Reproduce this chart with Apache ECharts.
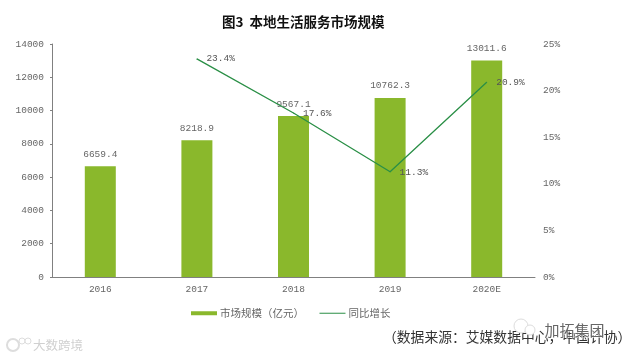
<!DOCTYPE html>
<html><head><meta charset="utf-8">
<style>html,body{margin:0;padding:0;background:#fff}#c{width:622px;height:359px}</style>
<script src="https://cdn.jsdelivr.net/npm/echarts@6/dist/echarts.min.js"></script>
</head><body><div id="c"></div>
<script>
const categories = ['2016','2017','2018','2019','2020E'];
const marketSize = [6659.4, 8218.9, 9667.1, 10762.3, 13011.6];
const marketLabels = ['6659.4','8218.9','9567.1','10762.3','13011.6'];
const growth = [null, 23.4, 17.6, 11.3, 20.9];
const leftTicks = {min:0, max:14000, interval:2000};
const rightTicks = {min:0, max:25, interval:5};
const growthLabelOffsets = [null,[4,0],[4,1],[4,1],[4,0]];
const mono = '"Liberation Mono","DejaVu Sans Mono",monospace';
const cjk = '"Noto Sans CJK SC",sans-serif';
const chart = echarts.init(document.getElementById('c'), null, {renderer:'canvas'});
chart.setOption({
  animation:false,
  backgroundColor:'#fff',
  title:{text:'图3  本地生活服务市场规模', left:217, top:10,
    textStyle:{fontFamily:cjk, fontSize:13.5, fontWeight:'bold', color:'#111'}},
  grid:{left:52, right:87, top:44, bottom:82, containLabel:false},
  legend:{top:303, left:186, itemGap:15, itemWidth:26, itemHeight:4,
    textStyle:{fontFamily:cjk, fontSize:10.5, color:'#666', padding:[0,0,0,-2]},
    data:[{name:'市场规模（亿元）', icon:'rect'},
          {name:'同比增长', itemStyle:{opacity:0}, lineStyle:{width:1}}]},
  xAxis:{type:'category', data:categories,
    axisLine:{lineStyle:{color:'#808080', width:1}}, axisTick:{show:false},
    axisLabel:{fontFamily:mono, fontSize:9.5, color:'#666', margin:7}},
  yAxis:[
    {type:'value', ...leftTicks, splitLine:{show:false},
      axisLine:{show:true, lineStyle:{color:'#808080'}},
      axisTick:{show:true, length:2, lineStyle:{color:'#808080'}},
      axisLabel:{fontFamily:mono, fontSize:9.5, color:'#666', margin:8, formatter:v=>String(v)}},
    {type:'value', ...rightTicks, splitLine:{show:false},
      axisLine:{show:false}, axisTick:{show:false},
      axisLabel:{fontFamily:mono, fontSize:9.5, color:'#666', margin:8, formatter:'{value}%'}}
  ],
  series:[
    {name:'市场规模（亿元）', type:'bar', barWidth:31, data:marketSize,
      itemStyle:{color:'#8ab82c'},
      label:{show:true, position:'top', distance:7, fontFamily:mono, fontSize:9.5, color:'#666',
        formatter:p=>marketLabels[p.dataIndex]}},
    {name:'同比增长', type:'line', yAxisIndex:1, symbol:'circle', symbolSize:1, showSymbol:true, z:5,
      data:growth.map((v,i)=>({value:v, label:growthLabelOffsets[i]?{offset:growthLabelOffsets[i]}:undefined})),
      lineStyle:{color:'#2a8f46', width:1.3}, itemStyle:{color:'#2a8f46'},
      label:{show:true, position:'right', fontFamily:mono, fontSize:9.5, color:'#555',
        formatter:p=>Number(p.value).toFixed(1)+'%'}}
  ],
  graphic:[
    {type:'text', left:383, top:330, style:{text:'（数据来源：艾媒数据中心，中国计协）', fontFamily:cjk, fontSize:13.8, fill:'#333'}},
    {type:'circle', shape:{cx:521,cy:326,r:7}, z:9, style:{fill:'#fff', stroke:'#ddd', lineWidth:1}},
    {type:'circle', shape:{cx:530,cy:330,r:5}, z:9, style:{fill:'#fff', stroke:'#ddd', lineWidth:1}},
    {type:'text', left:544, top:322, z:10, style:{text:'加拓集团', fontFamily:cjk, fontSize:15, fill:'#666', stroke:'#fff', lineWidth:1}},
    {type:'circle', shape:{cx:13,cy:345,r:6}, style:{fill:'#fff', stroke:'#ddd', lineWidth:2}},
    {type:'circle', shape:{cx:22,cy:341,r:3}, style:{fill:'#fff', stroke:'#ddd', lineWidth:1}},
    {type:'circle', shape:{cx:28,cy:341,r:3}, style:{fill:'#fff', stroke:'#ddd', lineWidth:1}},
    {type:'text', left:33, top:339, style:{text:'大数跨境', fontFamily:cjk, fontSize:12.5, fill:'#d0d0d0'}}
  ]
});
</script></body></html>
